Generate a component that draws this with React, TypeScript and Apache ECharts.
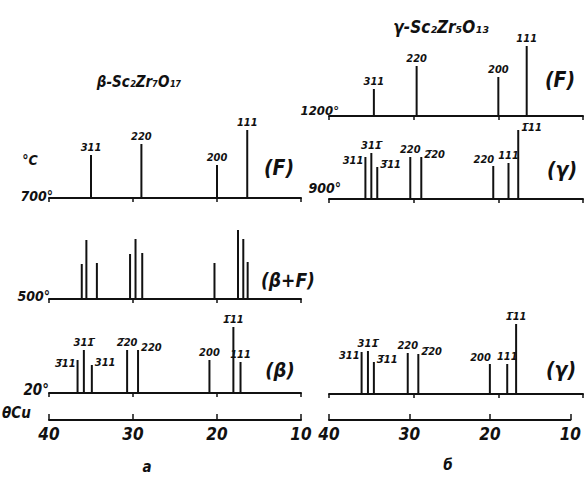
import React, { useEffect, useRef } from 'react';
import * as echarts from 'echarts';

// ---- data: 2θ (Cu) positions and relative intensities ----
const axisTicks = ['40', '30', '20', '10'];

const betaF700Theta = [35.0, 29.0, 20.0, 16.4];
const betaF700Int = [43, 54, 33, 68];
const betaF700Labels = ['311', '220', '200', '111'];

const betaMix500Theta = [36.1, 35.55, 34.3, 30.35, 29.7, 28.9, 20.3, 17.5, 16.87, 16.35];
const betaMix500Int = [35, 59, 36, 45, 60, 46, 36, 69, 60, 37];

const beta20Theta = [36.6, 35.85, 34.9, 30.7, 29.4, 20.9, 18.05, 17.2];
const beta20Int = [33, 43, 28, 43, 43, 33, 66, 31];
const beta20Labels = ['3\u030411', '311\u0304', '311', '2\u030420', '220', '200', '1\u030411', '111'];

const gammaF1200Theta = [34.7, 29.65, 20.0, 16.65];
const gammaF1200Int = [27, 50, 39, 70];
const gammaF1200Labels = ['311', '220', '200', '111'];

const gamma900Theta = [35.7, 35.0, 34.3, 30.4, 29.1, 20.6, 18.8, 17.65];
const gamma900Int = [42, 46, 32, 42, 42, 33, 36, 69];
const gamma900Labels = ['311', '311\u0304', '3\u030411', '220', '2\u030420', '220', '111', '1\u030411'];

const gamma20Theta = [36.15, 35.4, 34.7, 30.7, 29.45, 21.0, 18.95, 17.9];
const gamma20Int = [42, 43, 32, 41, 40, 30, 30, 70];
const gamma20Labels = ['311', '311\u0304', '3\u030411', '220', '2\u030420', '200', '111', '1\u030411'];

// label placements (style, not data)
const placeF = ['top', 'top', 'top', 'top'];
const placeBeta20 = ['left', 'top', 'right', 'top', 'right', 'top', 'top', 'top'];
const placeGamma900 = ['left', 'top', 'right', 'top', 'right', 'topleft', 'top', 'right'];
const placeGamma20 = ['left', 'top', 'right', 'top', 'right', 'topleft', 'top', 'top'];

const FONT = "'DejaVu Sans Condensed', 'DejaVu Sans', sans-serif";
const INK = '#111';

function zip(t: number[], v: number[]) {
  return t.map((x, i) => [x, v[i]]);
}

function makeRender(labels: string[] | null, places: string[] | null) {
  return (params: any, api: any) => {
    const x = api.value(0);
    const h = api.value(1);
    const top = api.coord([x, h]);
    const base = api.coord([x, 0]);
    const children: any[] = [
      {
        type: 'line',
        shape: { x1: top[0], y1: base[1], x2: top[0], y2: top[1] },
        style: { stroke: INK, lineWidth: 2 },
      },
    ];
    if (labels && places) {
      const p = places[params.dataIndex];
      let tx = top[0], ty = top[1] - 2, align = 'center', va = 'bottom';
      if (p === 'left') { tx = top[0] - 2; ty = top[1] + 3; align = 'right'; va = 'middle'; }
      else if (p === 'right') { tx = top[0] + 3; ty = top[1] - 3; align = 'left'; va = 'middle'; }
      else if (p === 'topleft') { tx = top[0] + 1; ty = top[1] - 1; align = 'right'; va = 'bottom'; }
      children.push({
        type: 'text',
        x: tx,
        y: ty,
        style: {
          text: labels[params.dataIndex],
          align,
          verticalAlign: va,
          fontSize: 11,
          fontStyle: 'italic',
          fontWeight: 'bold',
          fontFamily: FONT,
          fill: INK,
        },
      });
    }
    return { type: 'group', children };
  };
}

function patternAxis(gridIndex: number) {
  return {
    type: 'value', gridIndex, min: 10, max: 40, interval: 10, inverse: true,
    axisLine: { show: true, lineStyle: { color: INK, width: 2 } },
    axisTick: { show: true, length: 4, inside: false, lineStyle: { color: INK, width: 1.5 } },
    axisLabel: { show: false },
    splitLine: { show: false },
  };
}

function thetaAxis(gridIndex: number) {
  return {
    type: 'value', gridIndex, min: 10, max: 40, interval: 10, inverse: true,
    axisLine: { show: true, lineStyle: { color: INK, width: 2 } },
    axisTick: { show: true, length: 6, inside: true, lineStyle: { color: INK, width: 1.5 } },
    axisLabel: {
      show: true, margin: 5, color: INK, fontSize: 17, fontStyle: 'italic', fontWeight: 'bold', fontFamily: FONT,
      alignMinLabel: 'center', alignMaxLabel: 'center', hideOverlap: false,
      formatter: (v: number) => axisTicks[axisTicks.indexOf(String(v))] ?? String(v),
    },
    splitLine: { show: false },
  };
}

function hiddenY(gridIndex: number) {
  return { type: 'value', gridIndex, min: 0, max: 80, show: false };
}

function txt(text: string, x: number, y: number, size: number, align = 'center') {
  return {
    type: 'text', x, y,
    style: {
      text, align, verticalAlign: 'middle', fontSize: size, fontStyle: 'italic', fontWeight: 'bold',
      fontFamily: FONT, fill: INK,
    },
  };
}

export default function App() {
  const ref = useRef<HTMLDivElement>(null);
  useEffect(() => {
    if (!ref.current) return;
    const chart = echarts.init(ref.current, null, { renderer: 'svg' });
    const L = { left: 49, width: 252 };
    const R = { left: 329, width: 254 };
    const grids = [
      { ...L, top: 118, height: 80 },
      { ...L, top: 219, height: 80 },
      { ...L, top: 313, height: 80 },
      { ...L, top: 380, height: 40 },
      { ...R, top: 36, height: 80 },
      { ...R, top: 119, height: 80 },
      { ...R, top: 314, height: 80 },
      { ...R, top: 380, height: 40 },
    ];
    const series = [
      { d: zip(betaF700Theta, betaF700Int), l: betaF700Labels, p: placeF, g: 0 },
      { d: zip(betaMix500Theta, betaMix500Int), l: null, p: null, g: 1 },
      { d: zip(beta20Theta, beta20Int), l: beta20Labels, p: placeBeta20, g: 2 },
      { d: zip(gammaF1200Theta, gammaF1200Int), l: gammaF1200Labels, p: placeF, g: 4 },
      { d: zip(gamma900Theta, gamma900Int), l: gamma900Labels, p: placeGamma900, g: 5 },
      { d: zip(gamma20Theta, gamma20Int), l: gamma20Labels, p: placeGamma20, g: 6 },
    ].map((s) => ({
      type: 'custom',
      xAxisIndex: s.g,
      yAxisIndex: s.g,
      data: s.d,
      renderItem: makeRender(s.l as any, s.p as any),
      silent: true,
    }));
    chart.setOption({
      animation: false,
      backgroundColor: '#fff',
      grid: grids.map((g) => ({ ...g, containLabel: false })),
      xAxis: [
        patternAxis(0), patternAxis(1), patternAxis(2), thetaAxis(3),
        patternAxis(4), patternAxis(5), patternAxis(6), thetaAxis(7),
      ],
      yAxis: [0, 1, 2, 3, 4, 5, 6, 7].map(hiddenY),
      series,
      graphic: [
        txt('β-Sc₂Zr₇O₁₇', 139, 82, 15),
        txt('γ-Sc₂Zr₅O₁₃', 441, 27, 17),
        txt('°C', 30, 160, 14),
        txt('700°', 53, 196, 14, 'right'),
        txt('500°', 50, 296, 14, 'right'),
        txt('20°', 49, 390, 15, 'right'),
        txt('θCu', 2, 413, 15, 'left'),
        txt('1200°', 339, 110, 13, 'right'),
        txt('900°', 341, 188, 14, 'right'),
        txt('(F)', 279, 168, 21),
        txt('(β+F)', 288, 280, 19),
        txt('(β)', 280, 370, 20),
        txt('(F)', 560, 80, 21),
        txt('(γ)', 562, 170, 21),
        txt('(γ)', 561, 370, 21),
        txt('а', 147, 467, 15),
        txt('б', 448, 465, 15),
      ],
    });
    return () => chart.dispose();
  }, []);
  return <div ref={ref} style={{ position: 'fixed', left: 0, top: 0, width: 584, height: 478 }} />;
}
